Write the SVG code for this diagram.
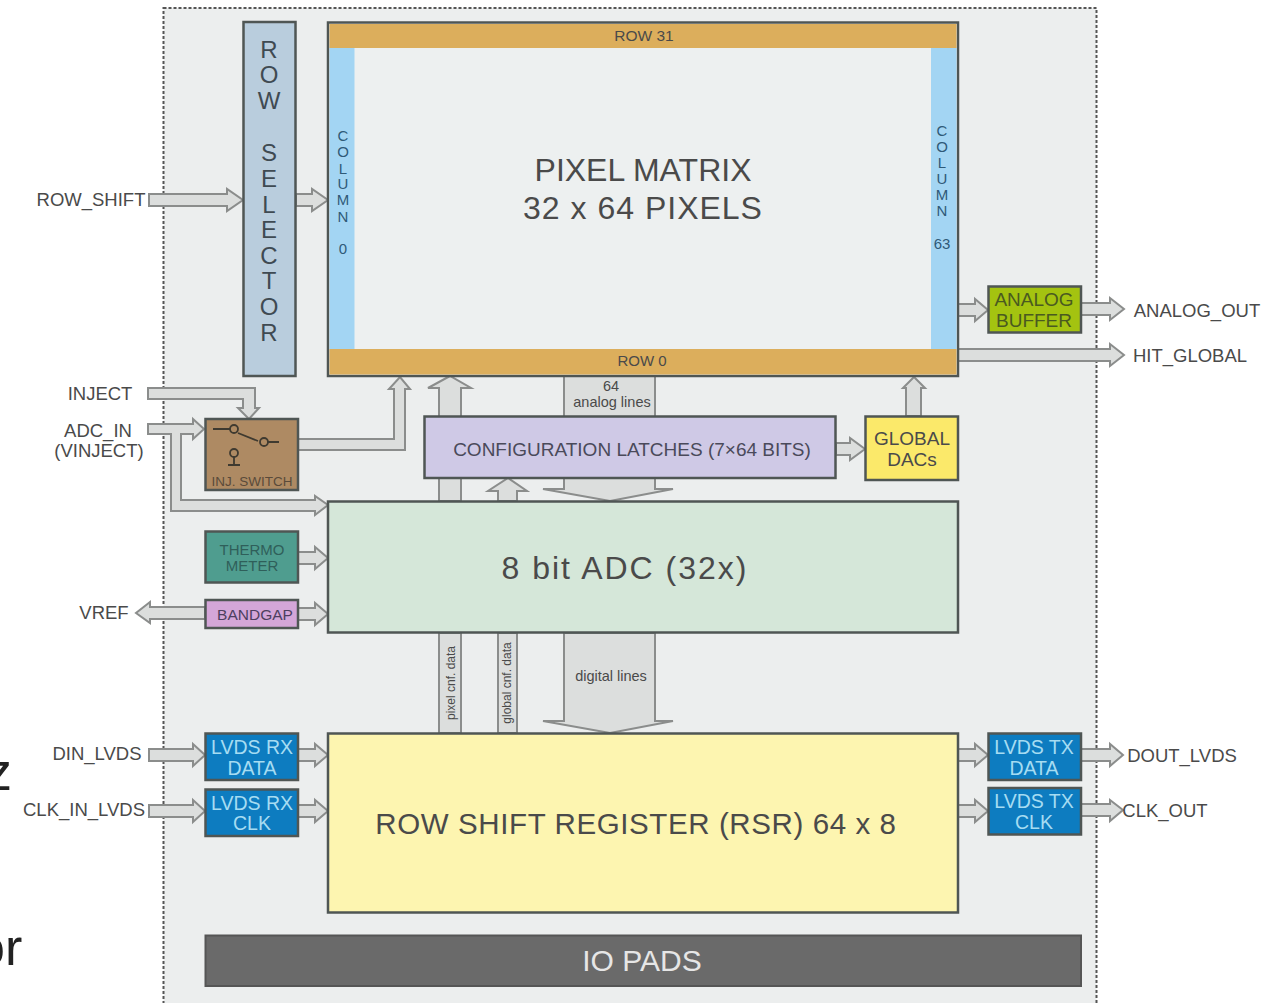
<svg xmlns="http://www.w3.org/2000/svg" width="1268" height="1003" viewBox="0 0 1268 1003">
<style>
text{font-family:"Liberation Sans",Arial,sans-serif;fill:#4a4a4a;text-anchor:middle}
.box{stroke:#4f5654;stroke-width:2.5}
.a{fill:#dcdedd;stroke:#8b8d8c;stroke-width:2;stroke-linejoin:miter}
.l{font-size:18.500px}
.g{font-size:19px}
.lv{font-size:19.500px;fill:#a6dcf2}
.sel{font-size:24px;fill:#3f4a52}
.col{font-size:15px;fill:#2f5a78}
.sym{fill:none;stroke:#3f3a30;stroke-width:1.8}
</style>
<rect width="1268" height="1003" fill="#ffffff"/>
<rect id="chip" x="163.500" y="8" width="933" height="1000" fill="#eceeee" stroke="#555" stroke-width="2" stroke-dasharray="3 2"/>
<g id="connectors">
<polygon class="a" points="149,194 227,194 227,189 243,200 227,211 227,206 149,206"/>
<polygon class="a" points="296,194 312,194 312,189 328,200 312,211 312,206 296,206"/>
<polygon class="a" points="148,388 255,388 255,408 259,408 249,419 238,408 243,408 243,399 148,399"/>
<polygon class="a" points="148,424 193,424 193,419 204,429 193,439 193,434 181,434 181,500 315,500 315,496 328,505 315,515 315,511 171,511 171,434 148,434"/>
<polygon class="a" points="298,439 394,439 394,389 389,389 400,377 410,389 405,389 405,450 298,450"/>
<polygon class="a" points="439,501 439,388 428,388 450,376 471,388 461,388 461,501"/>
<polygon class="a" points="498,501 498,491 488,491 508,478 527,491 517,491 517,501"/>
<polygon class="a" points="564,376 655,376 655,489 673,489 610,501 543,489 564,489"/>
<polygon class="a" points="836,443 850,443 850,438 865,449 850,460 850,455 836,455"/>
<polygon class="a" points="906,416 906,388 903,388 914,377 925,388 921,388 921,416"/>
<polygon class="a" points="298,552 315,552 315,547 328,558 315,569 315,564 298,564"/>
<polygon class="a" points="298,608 315,608 315,603 328,614 315,625 315,620 298,620"/>
<polygon class="a" points="205,607 150,607 150,602 136,613 150,623 150,619 205,619"/>
<polygon class="a" points="958,304 975,304 975,299 988,310 975,321 975,316 958,316"/>
<polygon class="a" points="1081,303 1110,303 1110,298 1124,309 1110,320 1110,315 1081,315"/>
<polygon class="a" points="958,349 1110,349 1110,344 1124,355 1110,366 1110,361 958,361"/>
<rect class="a" x="439" y="633" width="22" height="100"/>
<rect class="a" x="498" y="633" width="19" height="100"/>
<polygon class="a" points="564,633 655,633 655,721 673,721 610,733 543,721 564,721"/>
<polygon class="a" points="149,749 193,749 193,744 205,755 193,766 193,761 149,761"/>
<polygon class="a" points="149,805 193,805 193,800 205,811 193,822 193,817 149,817"/>
<polygon class="a" points="298,749 315,749 315,744 328,755 315,766 315,761 298,761"/>
<polygon class="a" points="298,805 315,805 315,800 328,811 315,822 315,817 298,817"/>
<polygon class="a" points="958,749 975,749 975,744 988,755 975,766 975,761 958,761"/>
<polygon class="a" points="958,805 975,805 975,800 988,811 975,822 975,817 958,817"/>
<polygon class="a" points="1081,749 1110,749 1110,744 1123,755 1110,766 1110,761 1081,761"/>
<polygon class="a" points="1081,804 1110,804 1110,800 1123,810 1110,821 1110,816 1081,816"/>
</g>
<g id="row-selector">
<rect class="box" x="243.500" y="22" width="52" height="354" fill="#b9cddd"/>
<text class="sel" x="269" y="58">R</text><text class="sel" x="269" y="83">O</text><text class="sel" x="269" y="109">W</text>
<text class="sel" x="269" y="161">S</text><text class="sel" x="269" y="187">E</text><text class="sel" x="269" y="213">L</text><text class="sel" x="269" y="238">E</text><text class="sel" x="269" y="264">C</text><text class="sel" x="269" y="289">T</text><text class="sel" x="269" y="315">O</text><text class="sel" x="269" y="341">R</text>
</g>
<g id="pixel-matrix">
<rect class="box" x="328" y="22.500" width="630" height="353.500" fill="#edf0f0"/>
<rect x="329.500" y="24" width="627" height="24" fill="#dcae5c"/>
<rect x="329.500" y="349" width="627" height="25.500" fill="#dcae5c"/>
<rect x="329.500" y="48" width="25" height="301" fill="#a3d5f3"/>
<rect x="931" y="48" width="25.500" height="301" fill="#a3d5f3"/>
<text x="644" y="41" font-size="15.500">ROW 31</text>
<text x="642" y="366" font-size="15">ROW 0</text>
<text x="343" y="141" class="col">C</text><text x="343" y="157" class="col">O</text><text x="343" y="174" class="col">L</text><text x="343" y="189" class="col">U</text><text x="343" y="205" class="col">M</text><text x="343" y="222" class="col">N</text><text x="343" y="254" class="col">0</text>
<text x="942" y="136" class="col">C</text><text x="942" y="152" class="col">O</text><text x="942" y="168" class="col">L</text><text x="942" y="184" class="col">U</text><text x="942" y="200" class="col">M</text><text x="942" y="216" class="col">N</text><text x="942" y="249" class="col">63</text>
<text x="643" y="181" font-size="32">PIXEL MATRIX</text>
<text x="643" y="219" font-size="32" letter-spacing="1">32 x 64 PIXELS</text>
</g>
<g id="inj-switch">
<rect class="box" x="205.500" y="419" width="92.500" height="71" fill="#ae8a63"/>
<path class="sym" d="M213 429H230M238 433L258 441M268 442H279M234 457V465M228 465H240"/>
<circle class="sym" cx="234" cy="429" r="4"/><circle class="sym" cx="264" cy="442" r="4"/><circle class="sym" cx="234" cy="453" r="4"/>
<text x="252" y="486" font-size="13.500" style="fill:#5a4a3a">INJ. SWITCH</text>
</g>
<g id="config-latches">
<rect class="box" x="424.500" y="416.500" width="411" height="61.500" fill="#cfc9e6"/>
<text x="632" y="456" font-size="19" style="fill:#4a4a5a">CONFIGURATION LATCHES (7×64 BITS)</text>
</g>
<g id="global-dacs">
<rect class="box" x="865.500" y="416.500" width="92.500" height="63.500" fill="#fbe96a"/>
<text x="912" y="445" class="g">GLOBAL</text><text x="912" y="466" class="g">DACs</text>
</g>
<g id="adc">
<rect class="box" x="328" y="501.500" width="630" height="131" fill="#d5e7d9"/>
<text x="625" y="579" font-size="32" letter-spacing="2">8 bit ADC (32x)</text>
</g>
<g id="thermometer">
<rect class="box" x="205.500" y="531.500" width="92.500" height="51" fill="#4f9d8f"/>
<text x="252" y="555" font-size="15" style="fill:#2f5f5a">THERMO</text><text x="252" y="571" font-size="15" style="fill:#2f5f5a">METER</text>
</g>
<g id="bandgap">
<rect class="box" x="205.500" y="600" width="92.500" height="28" fill="#d4a6d8"/>
<text x="255" y="620" font-size="15.500" style="fill:#4d3f5f">BANDGAP</text>
</g>
<g id="analog-buffer">
<rect class="box" x="988.500" y="286.500" width="92.500" height="46" fill="#a4c310"/>
<text x="1034" y="306" font-size="19" style="fill:#4a5a20">ANALOG</text><text x="1034" y="327" font-size="19" style="fill:#4a5a20">BUFFER</text>
</g>
<g id="rsr">
<rect class="box" x="328" y="733.500" width="630" height="179" fill="#fdf5b0" stroke-width="2"/>
<text x="636" y="834" font-size="29.500" letter-spacing=".6">ROW SHIFT REGISTER (RSR) 64 x 8</text>
</g>
<g id="lvds-rx-data"><rect class="box" x="205.500" y="733.500" width="92.500" height="46.500" fill="#0d7cc0"/><text class="lv" x="252" y="754">LVDS RX</text><text class="lv" x="252" y="775">DATA</text></g>
<g id="lvds-rx-clk"><rect class="box" x="205.500" y="789.500" width="92.500" height="46.500" fill="#0d7cc0"/><text class="lv" x="252" y="810">LVDS RX</text><text class="lv" x="252" y="830">CLK</text></g>
<g id="lvds-tx-data"><rect class="box" x="988.500" y="733.500" width="92.500" height="46.500" fill="#0d7cc0"/><text class="lv" x="1034" y="754">LVDS TX</text><text class="lv" x="1034" y="775">DATA</text></g>
<g id="lvds-tx-clk"><rect class="box" x="988.500" y="788" width="92.500" height="46.500" fill="#0d7cc0"/><text class="lv" x="1034" y="808">LVDS TX</text><text class="lv" x="1034" y="829">CLK</text></g>
<g id="io-pads">
<rect x="205.500" y="935.500" width="875.500" height="50.500" fill="#6a6a6a" stroke="#555" stroke-width="2"/>
<text x="642" y="971" font-size="30" style="fill:#e6e6e6">IO PADS</text>
</g>
<g id="labels">
<text class="l" x="91" y="206">ROW_SHIFT</text>
<text class="l" x="100" y="400">INJECT</text>
<text class="l" x="98" y="437">ADC_IN</text>
<text class="l" x="99" y="457">(VINJECT)</text>
<text class="l" x="104" y="619">VREF</text>
<text class="l" x="97" y="760">DIN_LVDS</text>
<text class="l" x="84" y="816">CLK_IN_LVDS</text>
<text class="l" x="1197" y="317">ANALOG_OUT</text>
<text class="l" x="1190" y="362">HIT_GLOBAL</text>
<text class="l" x="1182" y="762">DOUT_LVDS</text>
<text class="l" x="1165" y="817">CLK_OUT</text>
<text x="611" y="391" font-size="14.500">64</text>
<text x="612" y="407" font-size="14.500">analog lines</text>
<text x="611" y="681" font-size="14.500">digital lines</text>
<text transform="translate(455,683) rotate(-90)" font-size="12">pixel cnf. data</text>
<text transform="translate(511,683) rotate(-90)" font-size="12">global cnf. data</text>
<text x="-15" y="790" font-size="54" style="fill:#222;text-anchor:start">z</text>
<text x="-24" y="965" font-size="52" style="fill:#222;text-anchor:start">or</text>
</g>
</svg>
